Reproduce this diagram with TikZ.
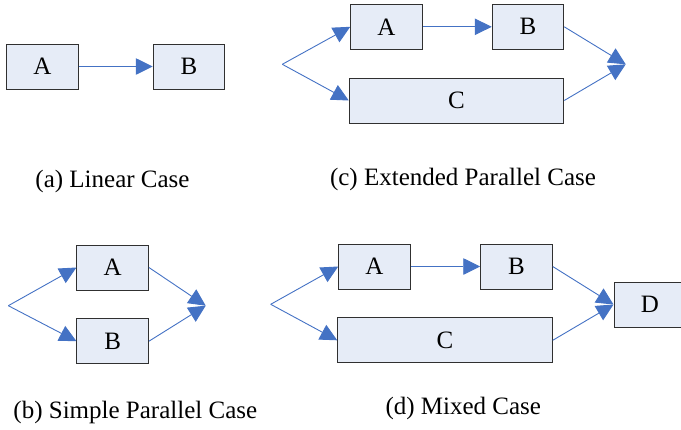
\documentclass[tikz,border=0pt]{standalone}
\usepackage{fontspec}
\setmainfont{Liberation Serif}
\usetikzlibrary{arrows.meta}
\definecolor{boxfill}{HTML}{E6ECF7}
\definecolor{boxline}{HTML}{303030}
\definecolor{arr}{HTML}{4472C4}
\begin{document}
\begin{tikzpicture}[x=1pt,y=-1pt,
  box/.style={draw=boxline,fill=boxfill,line width=1pt,minimum height=45pt,minimum width=71.5pt,inner sep=0pt,font=\fontsize{25}{30}\selectfont},
  wide/.style={box,minimum width=214.5pt},
  flow/.style={draw=arr,line width=0.9pt,-{Triangle[length=17pt,width=16.5pt]}},
  captext/.style={anchor=base,inner sep=0pt,font=\fontsize{25}{30}\selectfont}]
\useasboundingbox (0,0) rectangle (681,429);
% (a) Linear case
\node[box] (aA) at (42.3,66.5) {A};
\node[box] (aB) at (189,66.5) {B};
\draw[flow] (aA) -- (aB);
\node[captext] (acap) at (112.5,187) {(a) Linear Case};
% (c) Extended parallel case
\node[box] (cA) at (386.5,26.8) {A};
\node[box] (cB) at (528,26.8) {B};
\node[wide] (cC) at (456.5,100.5) {C};
\coordinate (cs) at (282.3,64.3);
\coordinate (cj) at (625.7,64.3);
\draw[flow] (cs) -- (cA.west);
\draw[flow] (cs) -- (cC.west);
\draw[flow] (cA) -- (cB);
\draw[flow] (cB.east) -- (cj);
\draw[flow] (cC.east) -- (cj);
\node[captext] (ccap) at (463,185) {(c) Extended Parallel Case};
% (b) Simple parallel case
\node[box] (bA) at (112.7,267.5) {A};
\node[box] (bB) at (112.7,341.2) {B};
\coordinate (bs) at (8.3,305.7);
\coordinate (bj) at (205.7,305.7);
\draw[flow] (bs) -- (bA.west);
\draw[flow] (bs) -- (bB.west);
\draw[flow] (bA.east) -- (bj);
\draw[flow] (bB.east) -- (bj);
\node[captext] (bcap) at (135.3,418) {(b) Simple Parallel Case};
% (d) Mixed case
\node[box] (dA) at (374.5,266.5) {A};
\node[box] (dB) at (516.5,266.5) {B};
\node[wide] (dC) at (445,340.3) {C};
\node[box,minimum width=72pt] (dD) at (650,304.5) {D};
\coordinate (ds) at (270.7,304.3);
\draw[flow] (ds) -- (dA.west);
\draw[flow] (ds) -- (dC.west);
\draw[flow] (dA) -- (dB);
\draw[flow] (dB.east) -- (dD.west);
\draw[flow] (dC.east) -- (dD.west);
\node[captext] (dcap) at (463.3,414) {(d) Mixed Case};
\end{tikzpicture}
\end{document}
